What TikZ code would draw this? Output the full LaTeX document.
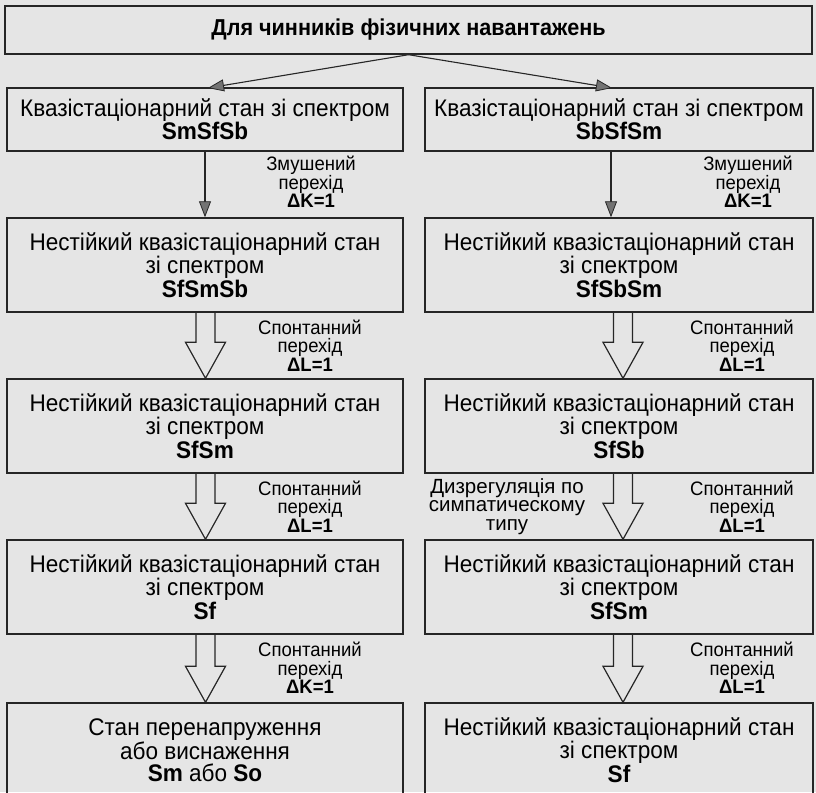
\documentclass[tikz,border=0pt]{standalone}
\usepackage{fontspec}
\setmainfont[FakeStretch=0.94]{Liberation Sans}
\newfontfamily\lblfont[FakeStretch=0.95]{Liberation Sans}
\newfontfamily\dizfont[FakeStretch=1.0]{Liberation Sans}
\usetikzlibrary{arrows.meta,calc}
\begin{document}
\begin{tikzpicture}[x=1pt,y=-1pt,
  box/.style={draw=black!85,line width=1.4pt,align=center,inner sep=0pt,
    font=\fontsize{24}{22}\selectfont},
  lbox/.style={box,minimum width=396pt},
  rbox/.style={box,minimum width=388pt},
  lbl/.style={align=center,font=\lblfont\fontsize{19.5}{18.5}\selectfont,inner sep=0pt},
  thin/.style={draw=black!85,line width=1.1pt,
    -{Triangle[length=16pt,width=12pt,fill=black!55,line width=0.8pt]}},
  blockarr/.style={draw=black!85,line width=1.2pt,line join=miter}]
\newcommand\blockarrow[3]{%
  \coordinate (ba-s) at ($(#1.south)+(#3,0)$);
  \coordinate (ba-t) at (ba-s |- #2.north);
  \draw[blockarr] ($(ba-s)+(-9.5,0)$) -- ($(ba-t)+(-9.5,-36)$) -- ($(ba-t)+(-20,-36)$)
    -- (ba-t) -- ($(ba-t)+(20,-36)$) -- ($(ba-t)+(9.5,-36)$) -- ($(ba-s)+(9.5,0)$);}
\fill[black!10] (0,0) rectangle (816,792);
\useasboundingbox (0,0) rectangle (816,792);
% top
\node[box,minimum width=807pt,minimum height=48pt,font=\fontsize{23}{22}\selectfont\bfseries] (top) at (408.5,30) {Для чинників фізичних навантажень};
% left column
\node[lbox,minimum height=63pt] (l1) at (205,119.5) {Квазістаціонарний стан зі спектром\\\textbf{SmSfSb}};
\node[lbox,minimum height=94pt] (l2) at (205,265) {Нестійкий квазістаціонарний стан\\зі спектром\\\textbf{SfSmSb}};
\node[lbox,minimum height=94pt] (l3) at (205,426) {Нестійкий квазістаціонарний стан\\зі спектром\\\textbf{SfSm}};
\node[lbox,minimum height=94pt] (l4) at (205,587) {Нестійкий квазістаціонарний стан\\зі спектром\\\textbf{Sf}};
\node[lbox,minimum height=94pt] (l5) at (205,750) {Стан перенапруження\\або виснаження\\\textbf{Sm} або \textbf{So}};
% right column
\node[rbox,minimum height=63pt] (r1) at (619,119.5) {Квазістаціонарний стан зі спектром\\\textbf{SbSfSm}};
\node[rbox,minimum height=94pt] (r2) at (619,265) {Нестійкий квазістаціонарний стан\\зі спектром\\\textbf{SfSbSm}};
\node[rbox,minimum height=94pt] (r3) at (619,426) {Нестійкий квазістаціонарний стан\\зі спектром\\\textbf{SfSb}};
\node[rbox,minimum height=94pt] (r4) at (619,587) {Нестійкий квазістаціонарний стан\\зі спектром\\\textbf{SfSm}};
\node[rbox,minimum height=94pt] (r5) at (619,750) {Нестійкий квазістаціонарний стан\\зі спектром\\\textbf{Sf}};
% arrows from top
\coordinate (tl) at (208,88);
\coordinate (tr) at (612,88);
\draw[thin] (top.south) -- (tl);
\draw[thin] (top.south) -- (tr);
% thin arrows row1 -> row2
\draw[thin] (l1.south) -- (l2.north);
\draw[thin] ($(r1.south)+(-8,0)$) -- ($(r2.north)+(-8,0)$);
% block arrows
\blockarrow{l2}{l3}{0.5}
\blockarrow{l3}{l4}{0.5}
\blockarrow{l4}{l5}{0.5}
\blockarrow{r2}{r3}{4}
\blockarrow{r3}{r4}{4}
\blockarrow{r4}{r5}{4}
% labels
\node[lbl] (a1) at (311,182) {Змушений\\перехід\\\textbf{ΔK=1}};
\node[lbl] (b1) at (748,182) {Змушений\\перехід\\\textbf{ΔK=1}};
\node[lbl] (a2) at (310,345.5) {Спонтанний\\перехід\\\textbf{ΔL=1}};
\node[lbl] (b2) at (742,345.5) {Спонтанний\\перехід\\\textbf{ΔL=1}};
\node[lbl] (a3) at (310,506.5) {Спонтанний\\перехід\\\textbf{ΔL=1}};
\node[lbl] (b3) at (742,506.5) {Спонтанний\\перехід\\\textbf{ΔL=1}};
\node[lbl,font=\dizfont\fontsize{20.5}{18.5}\selectfont] (c3) at (507,506.5) {Дизрегуляція по\\симпатическому\\типу};
\node[lbl] (a4) at (310,668) {Спонтанний\\перехід\\\textbf{ΔK=1}};
\node[lbl] (b4) at (742,668) {Спонтанний\\перехід\\\textbf{ΔL=1}};
\end{tikzpicture}
\end{document}
